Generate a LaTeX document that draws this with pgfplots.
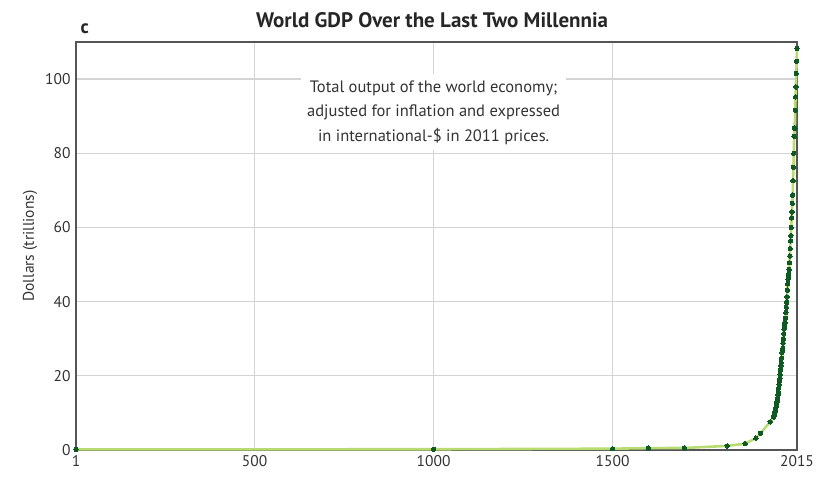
\documentclass[border=0pt]{standalone}
\usepackage{fontspec}
\setmainfont{PT Sans}
\usepackage{pgfplots}
\pgfplotsset{compat=1.18}
\usepackage{pgfplotstable}
\definecolor{gdpline}{HTML}{B9DC72}
\definecolor{gdpdot}{HTML}{0E5A22}
\definecolor{axgray}{HTML}{555555}
\definecolor{gridgray}{HTML}{D4D4D4}
\definecolor{txtgray}{HTML}{333333}
\pgfplotstableread{
year gdp
1 0.15
1000 0.20
1500 0.35
1600 0.50
1700 0.55
1820 1.10
1870 1.70
1900 3.20
1913 4.50
1940 7.60
1950 8.9
1951 9.3
1952 9.7
1953 10.1
1954 10.4
1955 11.0
1956 11.5
1957 12.0
1958 12.3
1959 13.0
1960 13.6
1961 14.1
1962 14.9
1963 15.7
1964 16.7
1965 17.6
1966 18.6
1967 19.3
1968 20.4
1969 21.6
1970 22.7
1971 23.6
1972 24.8
1973 26.3
1974 27.0
1975 27.4
1976 28.8
1977 30.0
1978 31.3
1979 32.6
1980 33.3
1981 34.0
1982 34.4
1983 35.5
1984 37.1
1985 38.5
1986 39.8
1987 41.3
1988 43.1
1989 44.8
1990 46.0
1991 46.6
1992 47.6
1993 48.7
1994 50.5
1995 52.3
1996 54.3
1997 56.4
1998 57.8
1999 60.0
2000 62.6
2001 64.2
2002 66.5
2003 68.7
2004 72.6
2005 76.2
2006 80.0
2007 84.6
2008 86.9
2009 86.7
2010 91.6
2011 95.2
2012 97.9
2013 101.5
2014 104.8
2015 108.3
}\gdp
\begin{document}
\begin{tikzpicture}
\begin{axis}[
  scale only axis,
  width=721pt, height=408pt,
  xmin=1, xmax=2015, ymin=0, ymax=110,
  xtick={1,500,1000,1500,2015},
  xticklabels={1,500,1000,1500,2015},
  ytick={0,20,40,60,80,100},
  grid=major,
  major grid style={gridgray, line width=1.2pt},
  axis line style={axgray, line width=1.3pt},
  major tick length=0pt,
  tick label style={font=\fontsize{15.5}{18}\selectfont, text=txtgray},
  /pgf/number format/assume math mode=true,
  /pgf/number format/1000 sep={},
  xticklabel style={yshift=-2pt},
  yticklabel style={xshift=-2pt},
  ylabel={Dollars (trillions)},
  ylabel style={font=\fontsize{15.5}{18}\selectfont, text=txtgray, at={(ticklabel cs:0.5)}, yshift=1pt},
  clip=false,
]
\node[fill=white, inner sep=6pt, align=center, text=txtgray, font=\fontsize{16.5}{24.5}\selectfont] at (axis cs:1000,91)
  {Total output of the world economy;\\adjusted for inflation and expressed\\in international-\$ in 2011 prices.};
\addplot[gdpline, line width=2.6pt, mark=*, mark size=2.2pt, mark options={fill=gdpdot, draw=gdpdot, line width=0pt}] table[x=year, y=gdp] {\gdp};
\node[font=\bfseries\fontsize{21}{24}\selectfont, text=black!85] at ([yshift=22pt]rel axis cs:0.494,1) {World GDP Over the Last Two Millennia};
\node[font=\bfseries\fontsize{19}{22}\selectfont, text=black!85, anchor=base west] at ([yshift=8pt, xshift=1pt]rel axis cs:0,1) {c};
\end{axis}
\pgfresetboundingbox
\path (-76pt,-28pt) rectangle (740pt,450pt);
\end{tikzpicture}
\end{document}
